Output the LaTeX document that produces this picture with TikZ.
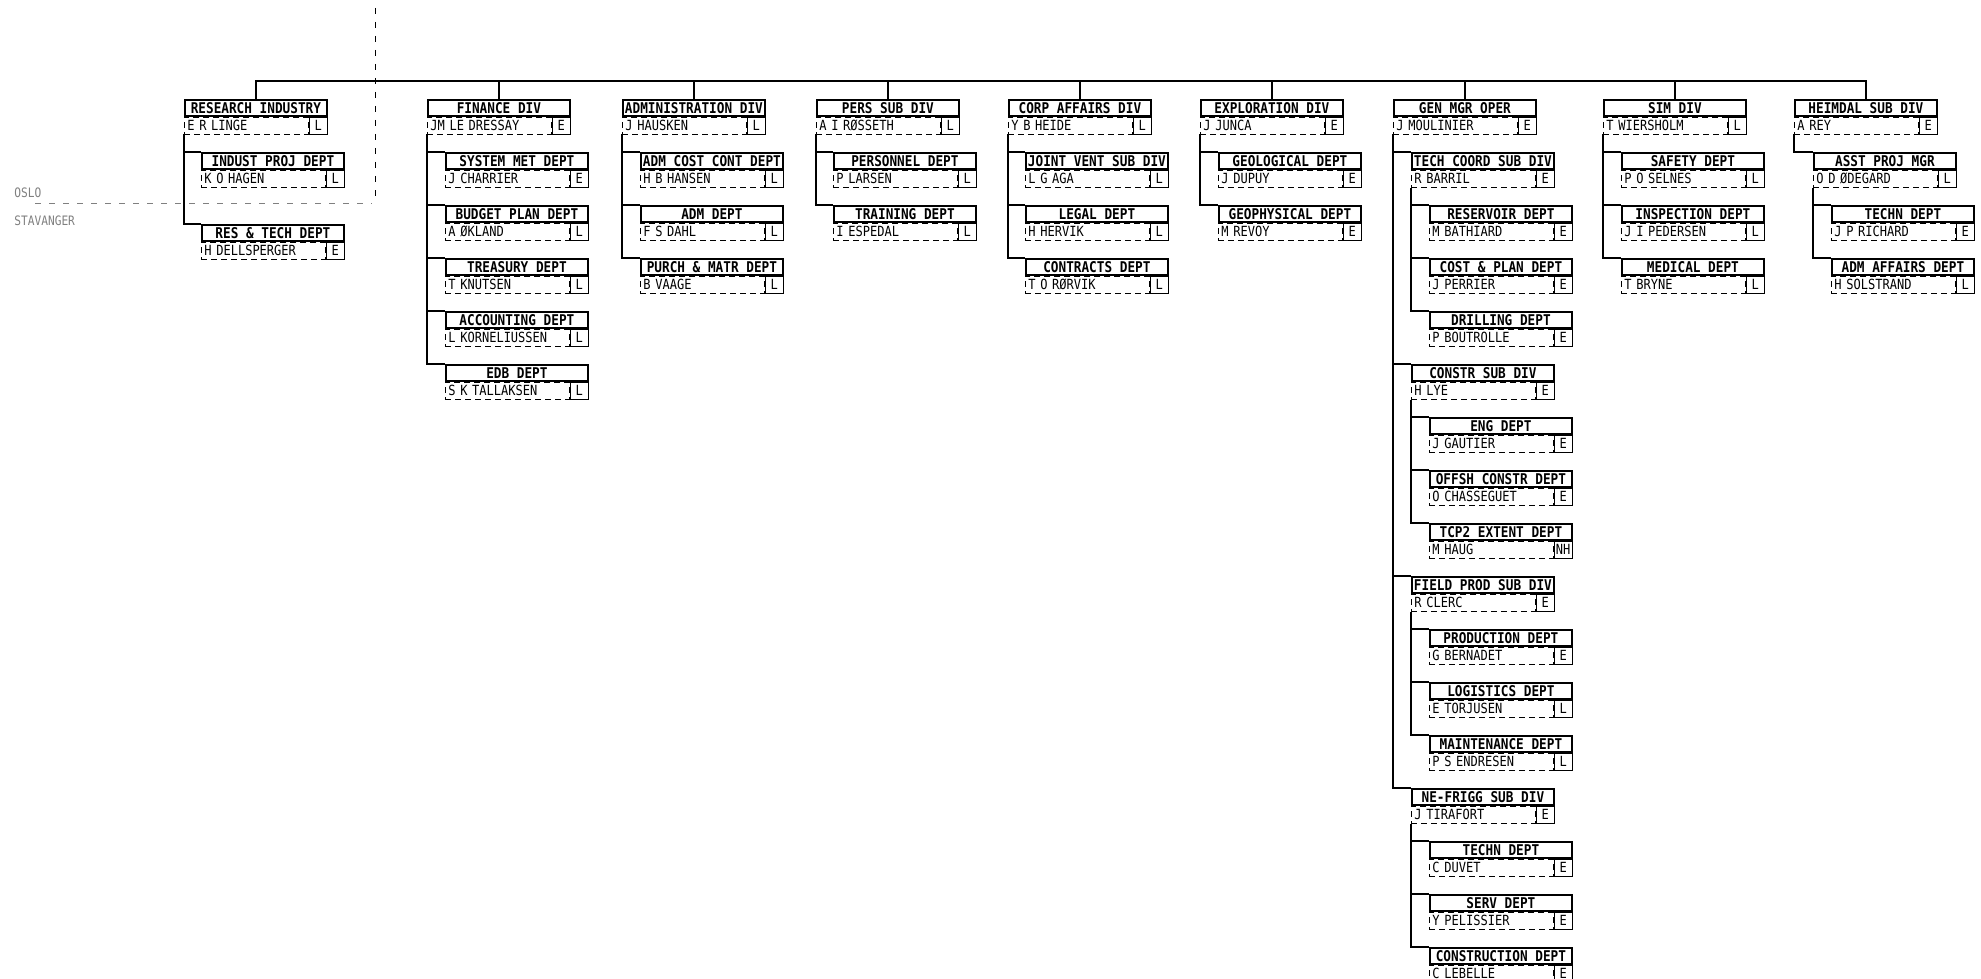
\documentclass[tikz,border=0pt]{standalone}
\usepackage{fontspec}
\newfontfamily\plotfont[FakeStretch=0.86]{DejaVu Sans Mono}

\tikzset{
  titlebox/.style={draw, line width=0.9pt, anchor=north west, minimum width=71pt,
    minimum height=8pt, inner sep=0pt, font=\plotfont\bfseries\fontsize{7.4}{7.4}\selectfont},
  namebox/.style={draw, densely dashed, line width=0.35pt, anchor=north west,
    text width=59pt, align=left, inner xsep=1.5pt, inner ysep=0pt, minimum height=8.5pt,
    font=\plotfont\fontsize{7}{7}\selectfont},
  codebox/.style={draw, line width=0.45pt, anchor=north west, minimum width=9pt,
    minimum height=8.5pt, inner sep=0pt, font=\plotfont\fontsize{7}{7}\selectfont},
  link/.style={line width=0.6pt},
  border/.style={dash pattern=on 3pt off 4pt, gray, line width=0.5pt},
  place/.style={anchor=west, gray, inner sep=0pt, font=\plotfont\fontsize{6.5}{7}\selectfont}
}

% name, x, y, title, person, code
\newcommand{\orgunit}[6]{%
  \node[titlebox] (#1) at (#2,#3) {#4};
  \node[namebox] (#1n) at (#1.south west) {#5};
  \node[codebox] (#1c) at (#1n.north east) {#6};
}

\begin{document}
\begin{tikzpicture}[x=0.5pt, y=-0.5pt]
\useasboundingbox (0,0) rectangle (1981,979);

% site border
\coordinate (ceil) at (375,8);
\coordinate (floor) at (375,198);
\coordinate (west) at (35,203);
\coordinate (east) at (372,203);
\draw[border, black] (ceil) -- (floor);
\draw[border] (west) -- (east);
\node[place] (oslo) at (14,193) {OSLO};
\node[place] (stav) at (14,221) {STAVANGER};

% research
\orgunit{res}{184}{99}{RESEARCH INDUSTRY}{E R LINGE}{L}
\orgunit{res1}{201}{152}{INDUST PROJ DEPT}{K O HAGEN}{L}
\orgunit{res2}{201}{224}{RES \& TECH DEPT}{H DELLSPERGER}{E}

% finance
\orgunit{fin}{427}{99}{FINANCE DIV}{JM LE DRESSAY}{E}
\orgunit{fin1}{445}{152}{SYSTEM MET DEPT}{J CHARRIER}{E}
\orgunit{fin2}{445}{205}{BUDGET PLAN DEPT}{A ØKLAND}{L}
\orgunit{fin3}{445}{258}{TREASURY DEPT}{T KNUTSEN}{L}
\orgunit{fin4}{445}{311}{ACCOUNTING DEPT}{L KORNELIUSSEN}{L}
\orgunit{fin5}{445}{364}{EDB DEPT}{S K TALLAKSEN}{L}

% administration
\orgunit{adm}{622}{99}{ADMINISTRATION DIV}{J HAUSKEN}{L}
\orgunit{adm1}{640}{152}{ADM COST CONT DEPT}{H B HANSEN}{L}
\orgunit{adm2}{640}{205}{ADM DEPT}{F S DAHL}{L}
\orgunit{adm3}{640}{258}{PURCH \& MATR DEPT}{B VAAGE}{L}

% personnel
\orgunit{pers}{816}{99}{PERS SUB DIV}{A I RØSSETH}{L}
\orgunit{pers1}{833}{152}{PERSONNEL DEPT}{P LARSEN}{L}
\orgunit{pers2}{833}{205}{TRAINING DEPT}{I ESPEDAL}{L}

% corporate affairs
\orgunit{corp}{1008}{99}{CORP AFFAIRS DIV}{Y B HEIDE}{L}
\orgunit{corp1}{1025}{152}{JOINT VENT SUB DIV}{L G AGA}{L}
\orgunit{corp2}{1025}{205}{LEGAL DEPT}{H HERVIK}{L}
\orgunit{corp3}{1025}{258}{CONTRACTS DEPT}{T O RØRVIK}{L}

% exploration
\orgunit{expl}{1200}{99}{EXPLORATION DIV}{J JUNCA}{E}
\orgunit{expl1}{1218}{152}{GEOLOGICAL DEPT}{J DUPUY}{E}
\orgunit{expl2}{1218}{205}{GEOPHYSICAL DEPT}{M REVOY}{E}

% operations
\orgunit{gen}{1393}{99}{GEN MGR OPER}{J MOULINIER}{E}
\orgunit{tech}{1411}{152}{TECH COORD SUB DIV}{R BARRIL}{E}
\orgunit{tech1}{1429}{205}{RESERVOIR DEPT}{M BATHIARD}{E}
\orgunit{tech2}{1429}{258}{COST \& PLAN DEPT}{J PERRIER}{E}
\orgunit{tech3}{1429}{311}{DRILLING DEPT}{P BOUTROLLE}{E}
\orgunit{constr}{1411}{364}{CONSTR SUB DIV}{H LYE}{E}
\orgunit{constr1}{1429}{417}{ENG DEPT}{J GAUTIER}{E}
\orgunit{constr2}{1429}{470}{OFFSH CONSTR DEPT}{O CHASSEGUET}{E}
\orgunit{constr3}{1429}{523}{TCP2 EXTENT DEPT}{M HAUG}{NH}
\orgunit{field}{1411}{576}{FIELD PROD SUB DIV}{R CLERC}{E}
\orgunit{field1}{1429}{629}{PRODUCTION DEPT}{G BERNADET}{E}
\orgunit{field2}{1429}{682}{LOGISTICS DEPT}{E TORJUSEN}{L}
\orgunit{field3}{1429}{735}{MAINTENANCE DEPT}{P S ENDRESEN}{L}
\orgunit{frigg}{1411}{788}{NE-FRIGG SUB DIV}{J TIRAFORT}{E}
\orgunit{frigg1}{1429}{841}{TECHN DEPT}{C DUVET}{E}
\orgunit{frigg2}{1429}{894}{SERV DEPT}{Y PELISSIER}{E}
\orgunit{frigg3}{1429}{947}{CONSTRUCTION DEPT}{C LEBELLE}{E}

% sim
\orgunit{sim}{1603}{99}{SIM DIV}{T WIERSHOLM}{L}
\orgunit{sim1}{1621}{152}{SAFETY DEPT}{P O SELNES}{L}
\orgunit{sim2}{1621}{205}{INSPECTION DEPT}{J I PEDERSEN}{L}
\orgunit{sim3}{1621}{258}{MEDICAL DEPT}{T BRYNE}{L}

% heimdal
\orgunit{heim}{1794}{99}{HEIMDAL SUB DIV}{A REY}{E}
\orgunit{asst}{1813}{152}{ASST PROJ MGR}{O D ØDEGARD}{L}
\orgunit{asst1}{1831}{205}{TECHN DEPT}{J P RICHARD}{E}
\orgunit{asst2}{1831}{258}{ADM AFFAIRS DEPT}{H SOLSTRAND}{L}

% top bar
\coordinate (barL) at ([yshift=9pt]res.north);
\coordinate (barR) at ([yshift=9pt]heim.north);
\draw[link] (res.north) -- (barL) -- (barR) -- (heim.north);
\foreach \d in {fin,adm,pers,corp,expl,gen,sim}
  \draw[link] (\d.north) -- ++(0,-18);

% branches
\foreach \c in {res1,res2} \draw[link] (resn.south west) |- (\c.north west);
\foreach \c in {fin1,fin2,fin3,fin4,fin5} \draw[link] (finn.south west) |- (\c.north west);
\foreach \c in {adm1,adm2,adm3} \draw[link] (admn.south west) |- (\c.north west);
\foreach \c in {pers1,pers2} \draw[link] (persn.south west) |- (\c.north west);
\foreach \c in {corp1,corp2,corp3} \draw[link] (corpn.south west) |- (\c.north west);
\foreach \c in {expl1,expl2} \draw[link] (expln.south west) |- (\c.north west);
\foreach \c in {tech,constr,field,frigg} \draw[link] (genn.south west) |- (\c.north west);
\foreach \c in {tech1,tech2,tech3} \draw[link] (techn.south west) |- (\c.north west);
\foreach \c in {constr1,constr2,constr3} \draw[link] (constrn.south west) |- (\c.north west);
\foreach \c in {field1,field2,field3} \draw[link] (fieldn.south west) |- (\c.north west);
\foreach \c in {frigg1,frigg2,frigg3} \draw[link] (friggn.south west) |- (\c.north west);
\foreach \c in {sim1,sim2,sim3} \draw[link] (simn.south west) |- (\c.north west);
\draw[link] (heimn.south west) |- (asst.north west);
\foreach \c in {asst1,asst2} \draw[link] (asstn.south west) |- (\c.north west);
\end{tikzpicture}
\end{document}
